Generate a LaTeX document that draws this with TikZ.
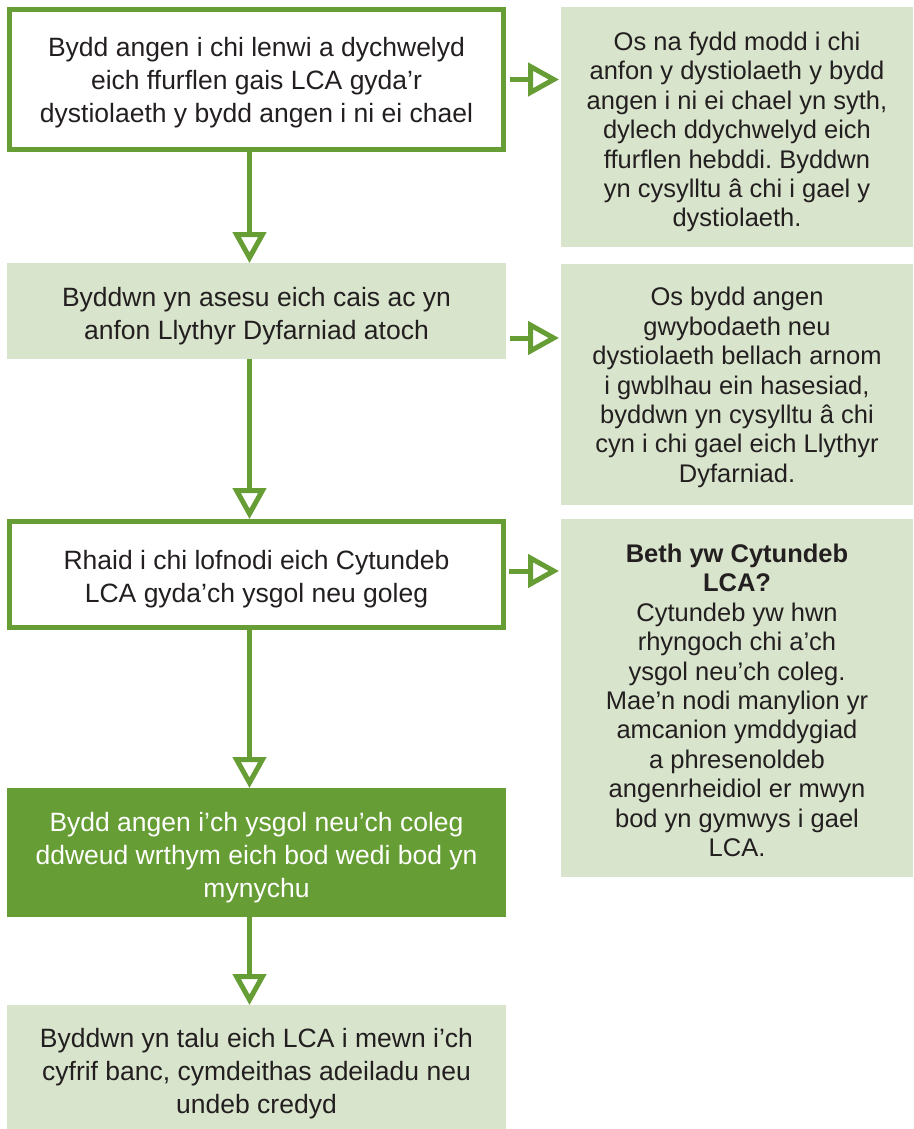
\documentclass[tikz,border=0pt]{standalone}
\usepackage{fontspec}
\setmainfont{Liberation Sans}
\usetikzlibrary{arrows.meta}
\definecolor{gr}{HTML}{669D34}
\definecolor{lg}{HTML}{D8E4CB}
\definecolor{tx}{HTML}{231F20}
\newcommand\dnstrut[1]{\rule{0pt}{#1}}
\frenchspacing
\begin{document}
\begin{tikzpicture}[x=1pt,y=-1pt,
  base/.style={anchor=north west, inner sep=0pt, align=center, text=tx, font=\fontsize{26.5}{33}\selectfont},
  wbox/.style={base, draw=gr, line width=5pt, fill=white, outer sep=2.5pt},
  lbox/.style={base, fill=lg, outer sep=0pt},
  dbox/.style={base, fill=gr, text=white, outer sep=0pt},
  rbox/.style={lbox, font=\fontsize{25.5}{29.4}\selectfont},
  conn/.style={draw=gr, line width=5pt, -{Triangle[open, length=31pt, width=33pt]}},
]
\useasboundingbox (0,0) rectangle (913,1129);
\node[wbox, minimum width=494pt, minimum height=140pt] (b1) at (7,7)
  {\dnstrut{25.3pt}Bydd angen i chi lenwi a dychwelyd\\eich ffurflen gais LCA gyda’r\\dystiolaeth y bydd angen i ni ei chael};
\node[lbox, minimum width=499pt, minimum height=96pt] (b2) at (7,263)
  {\dnstrut{29.3pt}Byddwn yn asesu eich cais ac yn\\anfon Llythyr Dyfarniad atoch};
\node[wbox, minimum width=494pt, minimum height=106pt] (b3) at (7,519)
  {\dnstrut{29.3pt}Rhaid i chi lofnodi eich Cytundeb\\LCA gyda’ch ysgol neu goleg};
\node[dbox, minimum width=499pt, minimum height=129pt] (b4) at (7,788)
  {\dnstrut{29.3pt}Bydd angen i’ch ysgol neu’ch coleg\\ddweud wrthym eich bod wedi bod yn\\mynychu};
\node[lbox, minimum width=499pt, minimum height=124pt] (b5) at (7,1005)
  {\dnstrut{33.3pt}Byddwn yn talu eich LCA i mewn i’ch\\cyfrif banc, cymdeithas adeiladu neu\\undeb credyd};
\node[rbox, minimum width=352pt, minimum height=240pt] (r1) at (561,7)
  {\dnstrut{28.6pt}Os na fydd modd i chi\\anfon y dystiolaeth y bydd\\angen i ni ei chael yn syth,\\dylech ddychwelyd eich\\ffurflen hebddi. Byddwn\\yn cysylltu â chi i gael y\\dystiolaeth.};
\node[rbox, minimum width=352pt, minimum height=241pt] (r2) at (561,264)
  {\dnstrut{24.6pt}Os bydd angen\\gwybodaeth neu\\dystiolaeth bellach arnom\\i gwblhau ein hasesiad,\\byddwn yn cysylltu â chi\\cyn i chi gael eich Llythyr\\Dyfarniad.};
\node[rbox, minimum width=352pt, minimum height=358pt] (r3) at (561,519)
  {\dnstrut{23.3pt}\textbf{Beth yw Cytundeb}\\\textbf{LCA?}\\Cytundeb yw hwn\\rhyngoch chi a’ch\\ysgol neu’ch coleg.\\Mae’n nodi manylion yr\\amcanion ymddygiad\\a phresenoldeb\\angenrheidiol er mwyn\\bod yn gymwys i gael\\LCA.};
\coordinate (a1) at (b1.east);
\coordinate (a2) at ([yshift=-27pt]b2.east);
\coordinate (a3) at ([yshift=3.5pt]b3.east);
\draw[conn] ([xshift=-7pt]b1.south) -- ([xshift=-7pt]b2.north);
\draw[conn] ([xshift=-7pt]b2.south) -- ([xshift=-7pt]b3.north);
\draw[conn] ([xshift=-7pt]b3.south) -- ([xshift=-7pt]b4.north);
\draw[conn] ([xshift=-7pt]b4.south) -- ([xshift=-7pt]b5.north);
\draw[conn, shorten <=4pt, shorten >=2pt] (a1) -- (r1.west |- a1);
\draw[conn, shorten <=4pt, shorten >=2pt] (a2) -- (r2.west |- a2);
\draw[conn, shorten <=3pt, shorten >=2pt] (a3) -- (r3.west |- a3);
\end{tikzpicture}
\end{document}
